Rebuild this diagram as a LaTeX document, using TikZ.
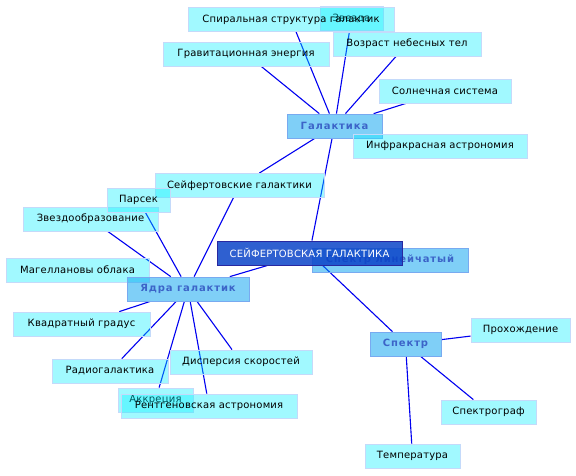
\documentclass[tikz,border=0pt]{standalone}
\usepackage{fontspec}
\setmainfont{DejaVu Sans}[LetterSpace=2]
\newfontfamily\midfont[LetterSpace=9]{DejaVu Sans}
\usepackage{tikz}
\usetikzlibrary{backgrounds}
\definecolor{leaffill}{RGB}{0,240,255}
\definecolor{leafdraw}{RGB}{196,218,250}
\definecolor{midfill}{RGB}{0,160,240}
\definecolor{middraw}{RGB}{120,170,240}
\definecolor{midtext}{RGB}{60,100,200}
\definecolor{rootfill}{RGB}{11,68,200}
\definecolor{rootdraw}{RGB}{40,40,160}
\definecolor{linkblue}{RGB}{0,0,240}
\tikzset{
  leaf/.style={rectangle, draw=leafdraw, fill=leaffill, fill opacity=0.37,
    text opacity=1, minimum height=24pt, inner sep=0pt, line width=0.8pt,
    font=\fontsize{10}{12}\selectfont},
  midbox/.style={rectangle, draw=middraw, fill=midfill, fill opacity=0.5,
    text opacity=1, text=midtext, minimum height=24pt, inner sep=0pt,
    line width=0.8pt, font=\midfont\bfseries\fontsize{10}{12}\selectfont},
  rootbox/.style={rectangle, draw=rootdraw, fill=rootfill, fill opacity=0.85,
    text opacity=1, text=white, minimum height=24pt, inner sep=0pt,
    line width=1pt, font=\fontsize{10}{12}\selectfont},
  link/.style={linkblue, line width=1.1pt}
}
\begin{document}
\begin{tikzpicture}[x=1pt, y=-1pt]
  \useasboundingbox (0,0) rectangle (576,475);
  % Galaxy branch
  \node[leaf, minimum width=63] (zvezda) at (351.5,18.5) {Звезда};
  \node[leaf, minimum width=206] (spiral) at (291,19.5) {Спиральная структура галактик};
  \node[leaf, minimum width=166] (grav) at (246,54) {Гравитационная энергия};
  \node[leaf, minimum width=148] (vozrast) at (407,44) {Возраст небесных тел};
  \node[leaf, minimum width=132] (solnce) at (445,91) {Солнечная система};
  \node[midbox, minimum width=95] (galaktika) at (334.5,126) {Галактика};
  \node[leaf, minimum width=174] (infra) at (440,146) {Инфракрасная астрономия};
  \node[leaf, minimum width=169] (seyfert) at (239.5,185.5) {Сейфертовские галактики};
  % Nuclei branch
  \node[leaf, minimum width=135] (zvezdoobr) at (90.5,219) {Звездообразование};
  \node[leaf, minimum width=63] (parsek) at (138.5,200) {Парсек};
  \node[leaf, minimum width=143] (magell) at (77.5,270) {Магеллановы облака};
  \node[midbox, minimum width=122] (yadra) at (188,289) {Ядра галактик};
  \node[leaf, minimum width=137] (kvadrat) at (81.5,324) {Квадратный градус};
  \node[leaf, minimum width=116] (radio) at (110,371) {Радиогалактика};
  \node[leaf, minimum width=142] (dispers) at (241,362) {Дисперсия скоростей};
  \node[leaf, minimum width=75] (akkrec) at (155.5,400) {Аккреция};
  \node[leaf, minimum width=176] (rentgen) at (209,406) {Рентгеновская астрономия};
  % Root and spectrum
  \node[midbox, minimum width=156] (speclin) at (390,260) {Спектр линейчатый};
  \node[rootbox, minimum width=185] (root) at (309.5,253) {СЕЙФЕРТОВСКАЯ ГАЛАКТИКА};
  \node[midbox, minimum width=71] (spektr) at (405.5,344) {Спектр};
  \node[leaf, minimum width=99] (prokh) at (520.5,330) {Прохождение};
  \node[leaf, minimum width=95] (spektrograf) at (488.5,412) {Спектрограф};
  \node[leaf, minimum width=95] (temper) at (412.5,456) {Температура};
  % Links behind the boxes
  \begin{pgfonlayer}{background}
    \foreach \a/\b in {root/galaktika, root/yadra, root/spektr,
      galaktika/spiral, galaktika/zvezda, galaktika/grav, galaktika/vozrast,
      galaktika/solnce, galaktika/seyfert,
      yadra/seyfert, yadra/parsek, yadra/zvezdoobr,
      yadra/kvadrat, yadra/radio, yadra/akkrec, yadra/rentgen, yadra/dispers,
      spektr/prokh, spektr/spektrograf, spektr/temper}
      \draw[link] (\a) -- (\b);
  \end{pgfonlayer}
\end{tikzpicture}
\end{document}
